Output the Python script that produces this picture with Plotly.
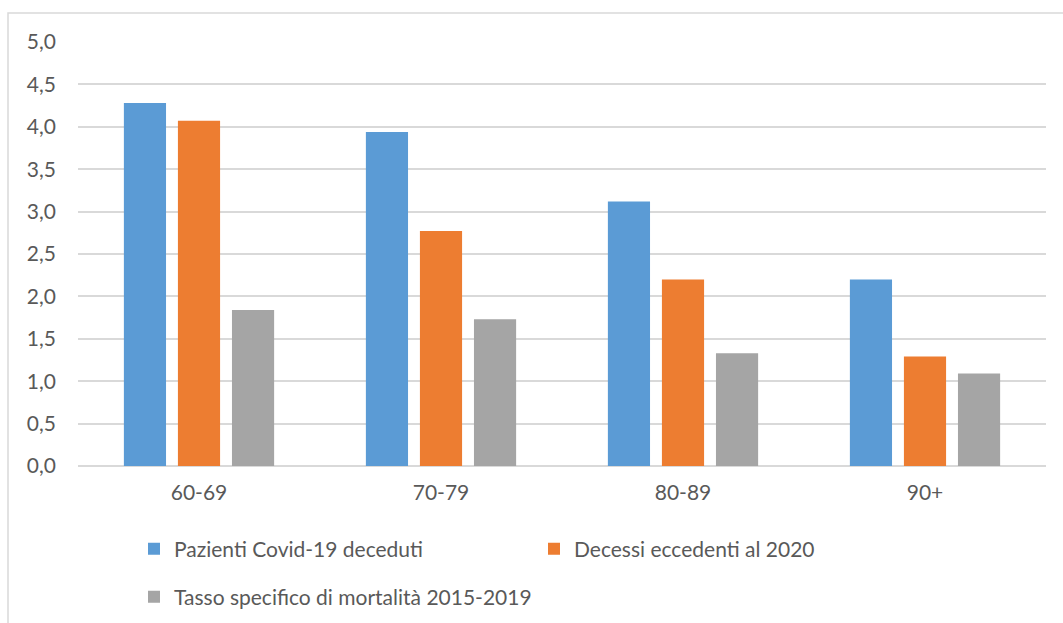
import plotly.graph_objects as go

categories = ["60-69", "70-79", "80-89", "90+"]
series_names = ["Pazienti Covid-19 deceduti", "Decessi eccedenti al 2020",
                "Tasso specifico di mortalità 2015-2019"]
covid = [4.28, 3.94, 3.12, 2.20]
eccedenti = [4.07, 2.77, 2.20, 1.29]
tasso = [1.84, 1.73, 1.33, 1.09]
colors = ["#5B9BD5", "#ED7D31", "#A5A5A5"]
y_ticks = [0, 0.5, 1, 1.5, 2, 2.5, 3, 3.5, 4, 4.5, 5]
y_ticktext = ["0,0", "0,5", "1,0", "1,5", "2,0", "2,5", "3,0", "3,5", "4,0", "4,5", "5,0"]

W, H = 1063, 623
L, R, T, B = 78, 17, 42, 157
pw, ph = W - L - R, H - T - B

font = "Lato, 'Open Sans', sans-serif"
fs = 21
fig = go.Figure()
for name, vals, col, leg in zip(series_names, [covid, eccedenti, tasso], colors,
                                ["legend", "legend", "legend2"]):
    fig.add_trace(go.Bar(x=categories, y=vals, name=name, marker_color=col,
                         marker_line_width=0, legend=leg))

def px2x(px):
    return (px - L) / pw

def px2y(py):
    return (H - B - py) / ph

fig.update_layout(
    width=W, height=H,
    margin=dict(l=L, r=R, t=T, b=B, autoexpand=False),
    paper_bgcolor="white", plot_bgcolor="white",
    barmode="group", bargap=0.33, bargroupgap=0.22,
    font=dict(family=font, size=fs, color="#595959"),
    xaxis=dict(showgrid=False, showline=False, ticks="", ticklabelstandoff=12,
               tickfont=dict(size=fs, color="#595959")),
    yaxis=dict(range=[0, 5], tickvals=y_ticks, ticktext=y_ticktext,
               showgrid=True, gridcolor="#D9D9D9", gridwidth=1.5,
               zeroline=True, zerolinecolor="#D9D9D9", zerolinewidth=1.5,
               showline=False, ticks="", ticklabelstandoff=21,
               tickfont=dict(size=fs, color="#595959")),
    legend=dict(orientation="h", x=px2x(134), y=px2y(549), yanchor="middle",
                xanchor="left", entrywidth=355, entrywidthmode="pixels",
                font=dict(size=fs, color="#595959"), bgcolor="rgba(0,0,0,0)"),
    legend2=dict(orientation="h", x=px2x(134), y=px2y(597), yanchor="middle",
                 xanchor="left", font=dict(size=fs, color="#595959"),
                 bgcolor="rgba(0,0,0,0)"),
    showlegend=True,
)

fig.add_shape(type="rect", xref="paper", yref="paper",
              x0=px2x(8), x1=px2x(1075), y0=px2y(13), y1=px2y(640),
              line=dict(color="#D9D9D9", width=1.5), fillcolor="rgba(0,0,0,0)",
              layer="below")

fig.write_html("out.html")
